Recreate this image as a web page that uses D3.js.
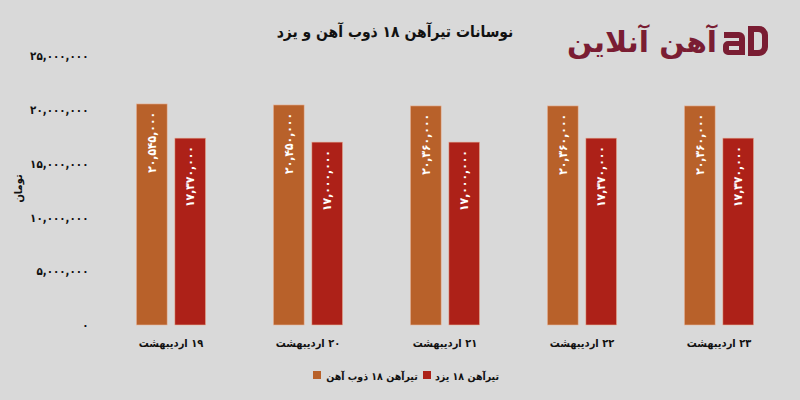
<!DOCTYPE html>
<html>
<head>
<meta charset="utf-8">
<script src="https://cdn.jsdelivr.net/npm/d3@7"></script>
<style>
  html, body { margin: 0; padding: 0; background: #d9d9d9; }
  svg { display: block; }
  text { font-family: "DejaVu Sans Condensed", "DejaVu Sans", sans-serif; font-weight: bold; }
</style>
</head>
<body>
<svg id="chart" width="800" height="400"></svg>
<script>
const categories = ["۱۹ اردیبهشت", "۲۰ اردیبهشت", "۲۱ اردیبهشت", "۲۲ اردیبهشت", "۲۳ اردیبهشت"];
const seriesNames = ["تیرآهن ۱۸ ذوب آهن", "تیرآهن ۱۸ یزد"];
const zobAhan = [20545000, 20450000, 20360000, 20360000, 20360000];
const yazd = [17370000, 17000000, 17000000, 17370000, 17370000];
const yTicks = [0, 5000000, 10000000, 15000000, 20000000, 25000000];
const colors = ["#b8612a", "#ad2118"];
const title = "نوسانات تیرآهن ۱۸ ذوب آهن و یزد";
const yTitle = "تومان";

const fa = s => String(s).replace(/\d/g, d => "۰۱۲۳۴۵۶۷۸۹"[+d]);
const fmt = v => fa(d3.format(",")(v));

const svg = d3.select("#chart");
const W = 800, H = 400;
const margin = {left: 102.5, right: 12.5, top: 56, bottom: 75};

const x = d3.scaleBand().domain(categories).range([margin.left, W - margin.right]).paddingInner(0).paddingOuter(0);
const x1 = d3.scaleBand().domain([0, 1]).range([0, x.bandwidth()]).paddingInner(0.2).paddingOuter(0.88);
const y = d3.scaleLinear().domain([0, 25000000]).range([H - margin.bottom, margin.top]);

// title
svg.append("text").attr("x", 395).attr("y", 37).attr("text-anchor", "middle")
  .attr("direction", "rtl")
  .attr("font-size", 15.5).attr("fill", "#111").text(title);

// logo
const logo = svg.append("g");
logo.append("text").attr("x", 642).attr("y", 52).attr("text-anchor", "middle")
  .attr("direction", "rtl")
  .attr("font-size", 29).attr("font-weight", "normal").attr("fill", "#7a1d33")
  .attr("textLength", 150).attr("lengthAdjust", "spacingAndGlyphs").text("آهن آنلاین");
// "aD" mark
logo.append("path")
  .attr("d", "M724,32 h15 a6,6 0 0 1 6,6 v17 h-17 a5,5 0 0 1 -5,-5 v-4 a5,5 0 0 1 5,-5 h11 v-3 h-15 z M729,46 v4 h10 v-4 z")
  .attr("fill", "#7a1d33").attr("fill-rule", "evenodd");
logo.append("path")
  .attr("d", "M748,26 h11 a9,9 0 0 1 9,9 v12 a9,9 0 0 1 -9,9 h-11 z M754,32 v18 h4 a4,4 0 0 0 4,-4 v-10 a4,4 0 0 0 -4,-4 z")
  .attr("fill", "#7a1d33").attr("fill-rule", "evenodd");

// y axis
const yAxis = svg.append("g").attr("transform", `translate(${margin.left - 11},0)`)
  .call(d3.axisLeft(y).tickValues(yTicks).tickFormat(fmt).tickSize(0));
yAxis.select(".domain").remove();
yAxis.selectAll("text").attr("font-size", 11.5).attr("fill", "#111")
  .attr("font-family", '"DejaVu Sans Condensed", "DejaVu Sans", sans-serif').attr("font-weight", "bold");

svg.append("text").attr("transform", `translate(22,${(y(0)+y(25000000))/2 - 2}) rotate(-90)`)
  .attr("text-anchor", "middle").attr("font-size", 11).attr("fill", "#111").text(yTitle);

// x axis labels
const xAxis = svg.append("g").attr("transform", `translate(0,${H - margin.bottom + 8})`)
  .call(d3.axisBottom(x).tickSize(0));
xAxis.select(".domain").remove();
xAxis.selectAll("text").attr("font-size", 11).attr("fill", "#111").attr("dy", "1em")
  .attr("direction", "rtl")
  .attr("font-family", '"DejaVu Sans Condensed", "DejaVu Sans", sans-serif').attr("font-weight", "bold");

// bars
const series = [zobAhan, yazd];
series.forEach((vals, si) => {
  const g = svg.append("g");
  g.selectAll("rect").data(vals).join("rect")
    .attr("x", (d, i) => x(categories[i]) + x1(si))
    .attr("y", d => y(d))
    .attr("width", x1.bandwidth())
    .attr("height", d => y(0) - y(d))
    .attr("fill", colors[si])
    .attr("stroke", "#e8b8a0").attr("stroke-width", 0.6);
  g.selectAll("text").data(vals).join("text")
    .attr("transform", (d, i) => `translate(${x(categories[i]) + x1(si) + x1.bandwidth()/2 + 4},${y(d) + 8}) rotate(-90)`)
    .attr("text-anchor", "end").attr("font-size", 12).attr("fill", "#fff")
    .text(d => fmt(d));
});

// legend
const legend = svg.append("g");
const legItems = [
  {name: seriesNames[1], color: colors[1], sq: 423, tx: 467},
  {name: seriesNames[0], color: colors[0], sq: 313, tx: 372}
];
legItems.forEach(it => {
  legend.append("rect").attr("x", it.sq).attr("y", 371).attr("width", 8).attr("height", 8).attr("fill", it.color);
  legend.append("text").attr("x", it.tx).attr("y", 380).attr("text-anchor", "middle")
    .attr("direction", "rtl")
    .attr("font-size", 10.5).attr("fill", "#111").text(it.name);
});
</script>
</body>
</html>
